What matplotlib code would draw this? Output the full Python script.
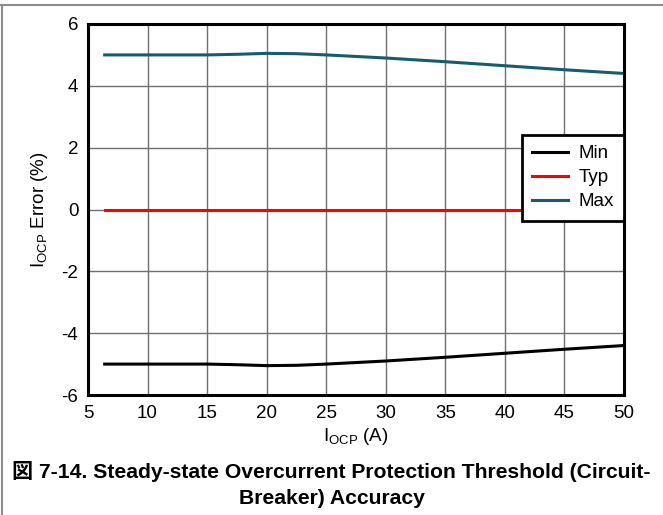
import matplotlib
matplotlib.use("Agg")
import matplotlib.pyplot as plt
from matplotlib.lines import Line2D

plt.rcParams['font.family'] = ['Liberation Sans', 'Noto Sans CJK JP', 'DejaVu Sans']
plt.rcParams['mathtext.fontset'] = 'custom'
plt.rcParams['mathtext.rm'] = 'Liberation Sans'
plt.rcParams['axes.unicode_minus'] = False

x_vals = [6.4, 10, 15, 17.5, 20, 22.5, 25, 30, 35, 40, 45, 50]
max_vals = [5.0, 5.0, 5.0, 5.02, 5.05, 5.04, 5.0, 4.9, 4.78, 4.65, 4.52, 4.4]
min_vals = [-5.0, -5.0, -5.0, -5.02, -5.05, -5.04, -5.0, -4.9, -4.78, -4.65, -4.52, -4.4]
typ_vals = [0, 0, 0, 0, 0, 0, 0, 0, 0, 0, 0, 0]
x_ticks = [5, 10, 15, 20, 25, 30, 35, 40, 45, 50]
y_ticks = [-6, -4, -2, 0, 2, 4, 6]

fig = plt.figure(figsize=(6.63, 5.15), dpi=100)
L, R, T, B = 88, 624, 24, 395
ax = fig.add_axes([L/663, 1-B/515, (R-L)/663, (B-T)/515])

ax.plot(x_vals, min_vals, color='black', lw=2.2, label='Min')
ax.plot(x_vals, typ_vals, color='#ff0000', lw=2.2, label='Typ')
ax.plot(x_vals, max_vals, color='#175c6c', lw=2.2, label='Max')

ax.set_xlim(5, 50)
ax.set_ylim(-6, 6)
ax.set_xticks(x_ticks)
ax.set_yticks(y_ticks)
ax.grid(True, color='#707070', lw=1.0)
ax.set_axisbelow(True)
ax.tick_params(length=0, labelsize=13.5, pad=7)
for s in ax.spines.values():
    s.set_linewidth(2.2)
    s.set_color('black')

ax.set_xlabel(r'I$_{\mathregular{OCP}}$ (A)', fontsize=13.5, labelpad=3)
ax.set_ylabel(r'I$_{\mathregular{OCP}}$ Error (%)', fontsize=13.5, labelpad=8)

leg = ax.legend(loc='upper right', bbox_to_anchor=(1.0, (B-135)/(B-T)), fontsize=13.5,
                frameon=True, fancybox=False, handlelength=1.9,
                borderpad=0.55, labelspacing=0.36, handletextpad=0.55, borderaxespad=0)
leg.get_frame().set_edgecolor('black')
leg.get_frame().set_linewidth(2.0)
leg.get_frame().set_alpha(1)

fig.text(0.5, 1-471/515, '図 7-14. Steady-state Overcurrent Protection Threshold (Circuit-',
         ha='center', va='center', fontsize=15.2, fontweight='bold')
fig.text(0.5, 1-498/515, 'Breaker) Accuracy',
         ha='center', va='center', fontsize=15.2, fontweight='bold')

# page frame lines
fig.add_artist(Line2D([0, 1], [1-5/515, 1-5/515], transform=fig.transFigure, color='#8c8c8c', lw=1.5))
fig.add_artist(Line2D([1.5/663, 1.5/663], [0, 1-5/515], transform=fig.transFigure, color='#8c8c8c', lw=1.5))

fig.savefig('out.png', dpi=100)
